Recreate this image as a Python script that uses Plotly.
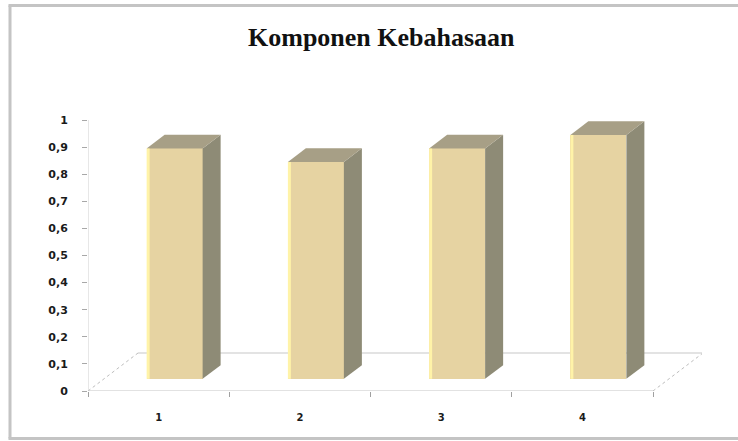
import plotly.graph_objects as go

# ---- data ----
categories = [1, 2, 3, 4]
category_labels = ["1", "2", "3", "4"]
values = [0.85, 0.80, 0.85, 0.90]
y_ticks = [0, 0.1, 0.2, 0.3, 0.4, 0.5, 0.6, 0.7, 0.8, 0.9, 1]
y_tick_labels = ["0", "0,1", "0,2", "0,3", "0,4", "0,5", "0,6", "0,7", "0,8", "0,9", "1"]
title_text = "Komponen Kebahasaan"

# ---- geometry / style ----
W, H = 738, 441
plot_l, plot_r, plot_t, plot_b = 88, 702, 110, 391
px_x = 141.25          # pixels per category unit
x0 = 0.5
x1 = x0 + (plot_r - plot_l) / px_x
px_y = 271.0           # pixels per value unit
y0 = 0.0
y1 = (plot_b - plot_t) / px_y

floor_dx = 50 / px_x
floor_dy = 38 / px_y
bar_frac = 0.36
front_frac = (1 - bar_frac) / 2
bdx = floor_dx * bar_frac
bdy = floor_dy * bar_frac
off_x = floor_dx * front_frac
off_y = floor_dy * front_frac
bar_w = 56 / px_x

front_col = "#E6D3A2"
side_col = "#8E8B76"
top_col = "#A79F86"
hilite_col = "#FFF3A8"
frame_col = "#C4C4C4"

fig = go.Figure()

first_edge = categories[0] - 0.5
last_edge = categories[-1] + 0.5
pw = plot_r - plot_l
ph = plot_b - plot_t


def fx(px):
    return (px - plot_l) / pw


def fy(py):
    return (plot_b - py) / ph


shapes = [
    dict(type="line", xref="x", yref="y", x0=first_edge, y0=0, x1=last_edge, y1=0,
         line=dict(color="#D9D9D9", width=1.5), layer="below"),
    dict(type="line", xref="x", yref="y", x0=first_edge + floor_dx, y0=floor_dy,
         x1=last_edge + floor_dx, y1=floor_dy, line=dict(color="#DADADA", width=1.5), layer="below"),
    dict(type="line", xref="x", yref="y", x0=first_edge, y0=0, x1=first_edge + floor_dx,
         y1=floor_dy, line=dict(color="#BDBDBD", width=1, dash="dot"), layer="below"),
    dict(type="line", xref="x", yref="y", x0=last_edge, y0=0, x1=last_edge + floor_dx,
         y1=floor_dy, line=dict(color="#BDBDBD", width=1, dash="dot"), layer="below"),
    dict(type="line", xref="x", yref="y", x0=first_edge, y0=0, x1=first_edge, y1=y_ticks[-1],
         line=dict(color="#D0D0D0", width=1), layer="below"),
    # outer frame: left, top, bottom (right edge is outside the picture)
    dict(type="line", xref="paper", yref="paper", x0=fx(10), x1=fx(10), y0=fy(438.5), y1=fy(5.5),
         line=dict(color=frame_col, width=3), layer="below"),
    dict(type="line", xref="paper", yref="paper", x0=fx(8.5), x1=fx(745), y0=fy(5.5), y1=fy(5.5),
         line=dict(color=frame_col, width=3), layer="below"),
    dict(type="line", xref="paper", yref="paper", x0=fx(8.5), x1=fx(745), y0=fy(438.5), y1=fy(438.5),
         line=dict(color=frame_col, width=3), layer="below"),
]

bx = [c + off_x for c in categories]

fig.add_trace(go.Bar(x=bx, y=values, base=[off_y] * len(values), width=bar_w,
                     marker=dict(color=front_col, line=dict(width=0)),
                     hoverinfo="skip", showlegend=False))

for c, v in zip(bx, values):
    xl = c - bar_w / 2
    xr = c + bar_w / 2
    yb = off_y
    yt = off_y + v
    fig.add_trace(go.Scatter(x=[xr, xr + bdx, xr + bdx, xr, xr],
                             y=[yb, yb + bdy, yt + bdy, yt, yb],
                             fill="toself", fillcolor=side_col, mode="lines",
                             line=dict(width=0, color=side_col),
                             hoverinfo="skip", showlegend=False))
    fig.add_trace(go.Scatter(x=[xl, xr, xr + bdx, xl + bdx, xl],
                             y=[yt, yt, yt + bdy, yt + bdy, yt],
                             fill="toself", fillcolor=top_col, mode="lines",
                             line=dict(width=0, color=top_col),
                             hoverinfo="skip", showlegend=False))
    fig.add_trace(go.Scatter(x=[xl + 1.5 / px_x, xl + 1.5 / px_x], y=[yb, yt],
                             mode="lines", line=dict(color=hilite_col, width=3),
                             hoverinfo="skip", showlegend=False))

fig.update_layout(
    width=W, height=H,
    margin=dict(l=plot_l, r=W - plot_r, t=plot_t, b=H - plot_b),
    paper_bgcolor="white", plot_bgcolor="white",
    shapes=shapes,
    showlegend=False,
    bargap=0,
    annotations=[dict(text=title_text, xref="paper", yref="paper",
                      x=fx(381), y=fy(37),
                      xanchor="center", yanchor="middle", showarrow=False,
                      font=dict(family="Liberation Serif", size=26, color="#111111",
                                weight="bold"))],
)

fig.update_xaxes(range=[x0, x1], tickmode="array", tickvals=categories,
                 ticktext=category_labels, ticks="", showgrid=False, zeroline=False,
                 showline=False, ticklabelstandoff=19,
                 tickfont=dict(family="DejaVu Sans", size=10, color="#1a1a1a", weight="bold"),
                 minor=dict(tickmode="array", tickvals=[c - 0.5 for c in categories] + [categories[-1] + 0.5],
                            ticks="outside", ticklen=5, tickcolor="#A0A0A0", showgrid=False))

fig.update_yaxes(range=[y0, y1], tickmode="array", tickvals=y_ticks, ticktext=y_tick_labels,
                 ticks="outside", ticklen=5, tickcolor="#A8A8A8", showgrid=False,
                 zeroline=False, showline=False, ticklabelstandoff=12,
                 tickfont=dict(family="DejaVu Sans", size=11, color="#1a1a1a", weight="bold"))

fig.write_html(
    "out.html",
    config={"displayModeBar": False},
    post_script="document.body.style.margin='0';document.body.style.overflow='hidden';"
                "document.documentElement.style.overflow='hidden';",
)
